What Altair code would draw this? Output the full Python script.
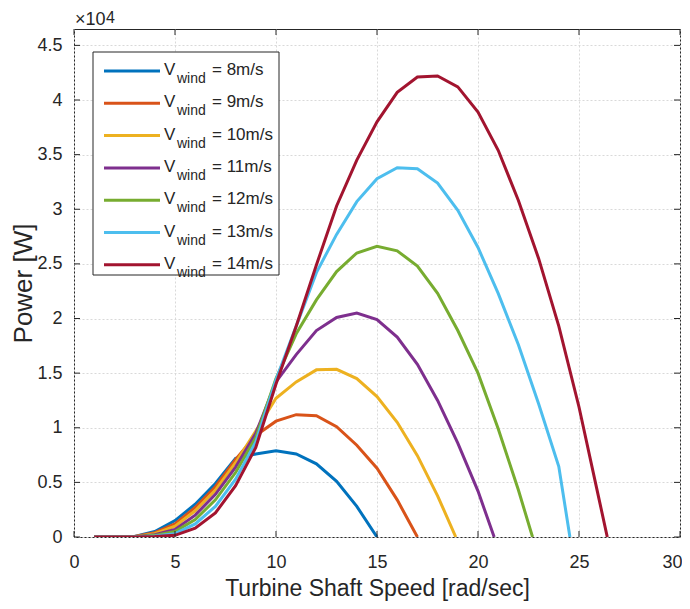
import altair as alt
import pandas as pd

# ---- data (power in units of 1e4 W) ----
speeds = [8, 9, 10, 11, 12, 13, 14]
colors = ["#0072BD", "#D95319", "#EDB120", "#7E2F8E", "#77AC30", "#4DBEEE", "#A2142F"]
end_x = [15, 17, 18.9, 20.8, 22.7, 24.55, 26.4]

p8 = [0, 0, 0.005, 0.05, 0.15, 0.30, 0.49, 0.72, 0.76, 0.79, 0.76, 0.67, 0.51, 0.28, 0]
p9 = [0, 0, 0.004, 0.04, 0.12, 0.27, 0.46, 0.71, 0.93, 1.06, 1.12, 1.11, 1.01, 0.84, 0.63, 0.34, 0]
p10 = [0, 0, 0.003, 0.03, 0.10, 0.24, 0.43, 0.68, 0.97, 1.27, 1.42, 1.53, 1.535, 1.45, 1.285, 1.05,
       0.745, 0.377, 0]
p11 = [0, 0, 0.002, 0.02, 0.07, 0.20, 0.39, 0.64, 0.95, 1.42, 1.67, 1.89, 2.01, 2.05, 1.99, 1.83,
       1.58, 1.25, 0.86, 0.42, 0]
p12 = [0, 0, 0.002, 0.015, 0.05, 0.16, 0.34, 0.59, 0.91, 1.45, 1.86, 2.17, 2.43, 2.60, 2.66, 2.62,
       2.48, 2.23, 1.89, 1.50, 0.99, 0.43, 0]
p13 = [0, 0, 0.001, 0.01, 0.03, 0.12, 0.28, 0.53, 0.87, 1.44, 1.93, 2.42, 2.77, 3.07, 3.28, 3.38,
       3.37, 3.24, 2.99, 2.65, 2.23, 1.76, 1.22, 0.645, 0]
p14 = [0, 0, 0.001, 0.005, 0.015, 0.08, 0.22, 0.47, 0.82, 1.40, 1.93, 2.49, 3.03, 3.45, 3.80, 4.07,
       4.21, 4.22, 4.12, 3.89, 3.54, 3.08, 2.55, 1.93, 1.19, 0.34, 0]
power = [p8, p9, p10, p11, p12, p13, p14]

x_ticks = [0, 5, 10, 15, 20, 25, 30]
y_ticks = [0, 0.5, 1, 1.5, 2, 2.5, 3, 3.5, 4, 4.5]
x_title = "Turbine Shaft Speed [rad/sec]"
y_title = "Power [W]"

rows = []
for v, pw, xe in zip(speeds, power, end_x):
    xs = list(range(1, len(pw))) + [xe]
    for xx, yy in zip(xs, pw):
        rows.append({"speed": xx, "power": yy, "wind": str(v)})
df = pd.DataFrame(rows)

W, H = 606, 508
FONT = "Liberation Sans"
TXT = "#262626"
xscale = alt.Scale(domain=[0, 30], nice=False, zero=False)
yscale = alt.Scale(domain=[0, 4.65], nice=False)
cscale = alt.Scale(domain=[str(v) for v in speeds], range=colors)

last_x = "datum.value == 30"
xaxis = alt.Axis(values=x_ticks, title=x_title, grid=True, ticks=False, domain=False,
                 gridColor="#d9d9d9", gridDash=[2, 2], gridWidth=1, labelFlush=False,
                 labelAlign={"condition": {"test": last_x, "value": "right"}, "value": "center"},
                 labelOffset={"condition": {"test": last_x, "value": 2}, "value": 0},
                 labelFont=FONT, labelFontSize=18, labelColor=TXT, labelPadding=16,
                 titleFont=FONT, titleFontSize=23, titleFontWeight="normal",
                 titleColor=TXT, titleBaseline="alphabetic", titleY=58)
yaxis = alt.Axis(values=y_ticks, title=y_title, grid=True, ticks=False, domain=False,
                 gridColor="#d9d9d9", gridDash=[2, 2], gridWidth=1, labelFlush=False,
                 labelExpr="format(datum.value, '~g')",
                 labelFont=FONT, labelFontSize=18, labelColor=TXT, labelPadding=12,
                 titleFont=FONT, titleFontSize=26, titleFontWeight="normal",
                 titleColor=TXT, titleBaseline="middle", titleX=-51)

lines = alt.Chart(df).mark_line(strokeWidth=3, clip=True).encode(
    x=alt.X("speed:Q", scale=xscale, axis=xaxis, title=x_title),
    y=alt.Y("power:Q", scale=yscale, axis=yaxis, title=y_title),
    color=alt.Color("wind:N", scale=cscale, legend=None),
)

xt = pd.DataFrame({"t": x_ticks})
yt = pd.DataFrame({"t": y_ticks})
tick_style = dict(color=TXT, strokeWidth=1)
xb = alt.Chart(xt).mark_rule(**tick_style).encode(
    x=alt.X("t:Q", scale=xscale, axis=xaxis, title=x_title), y=alt.value(H), y2=alt.value(H - 6))
xtop = alt.Chart(xt).mark_rule(**tick_style).encode(
    x=alt.X("t:Q", scale=xscale, axis=xaxis, title=x_title), y=alt.value(0), y2=alt.value(6))
yl = alt.Chart(yt).mark_rule(**tick_style).encode(
    y=alt.Y("t:Q", scale=yscale, axis=yaxis, title=y_title), x=alt.value(0), x2=alt.value(6))
yr = alt.Chart(yt).mark_rule(**tick_style).encode(
    y=alt.Y("t:Q", scale=yscale, axis=yaxis, title=y_title), x=alt.value(W), x2=alt.value(W - 6))

# ---- legend (manual, for the subscript) ----
leg = pd.DataFrame({"i": list(range(len(speeds))),
                    "wind": [str(v) for v in speeds],
                    "label": [f"= {v}m/s" for v in speeds]})
box = alt.Chart(pd.DataFrame({"a": [0]})).mark_rect(
    fill="white", stroke=TXT, strokeWidth=1).encode(
    x=alt.value(19), x2=alt.value(205), y=alt.value(23), y2=alt.value(246))
legbase = alt.Chart(leg).transform_calculate(
    ly="42 + 32.3 * datum.i", vy="46 + 32.3 * datum.i", sy="54 + 32.3 * datum.i")
samples = legbase.mark_rule(strokeWidth=3).encode(
    x=alt.value(30), x2=alt.value(86), y=alt.Y("ly:Q", scale=None),
    color=alt.Color("wind:N", scale=cscale, legend=None))
vtext = legbase.mark_text(align="left", baseline="alphabetic", font=FONT, fontSize=17,
                          color=TXT).encode(
    x=alt.value(90), y=alt.Y("vy:Q", scale=None), text=alt.value("V"))
subtext = legbase.mark_text(align="left", baseline="alphabetic", font=FONT, fontSize=14,
                            color=TXT).encode(
    x=alt.value(103), y=alt.Y("sy:Q", scale=None), text=alt.value("wind"))
labtext = legbase.mark_text(align="left", baseline="alphabetic", font=FONT, fontSize=17,
                            color=TXT).encode(
    x=alt.value(138), y=alt.Y("vy:Q", scale=None), text="label:N")

# ---- exponent label ----
one = pd.DataFrame({"a": [0]})
exp1 = alt.Chart(one).mark_text(align="left", baseline="alphabetic", font=FONT, fontSize=18,
                                color=TXT).encode(x=alt.value(1), y=alt.value(-4),
                                                  text=alt.value("×10"))
exp2 = alt.Chart(one).mark_text(align="left", baseline="alphabetic", font=FONT, fontSize=16,
                                color=TXT).encode(x=alt.value(32), y=alt.value(-6.5),
                                                  text=alt.value("4"))

chart = alt.layer(lines, xb, xtop, yl, yr, box, samples, vtext, subtext, labtext, exp1, exp2).properties(
    width=W, height=H, autosize="none",
    padding={"left": 66, "top": 21, "right": 2, "bottom": 64},
    background="white",
).configure_view(stroke=TXT, strokeWidth=1)

chart.save("out.html", embed_options={"renderer": "svg", "actions": False})
